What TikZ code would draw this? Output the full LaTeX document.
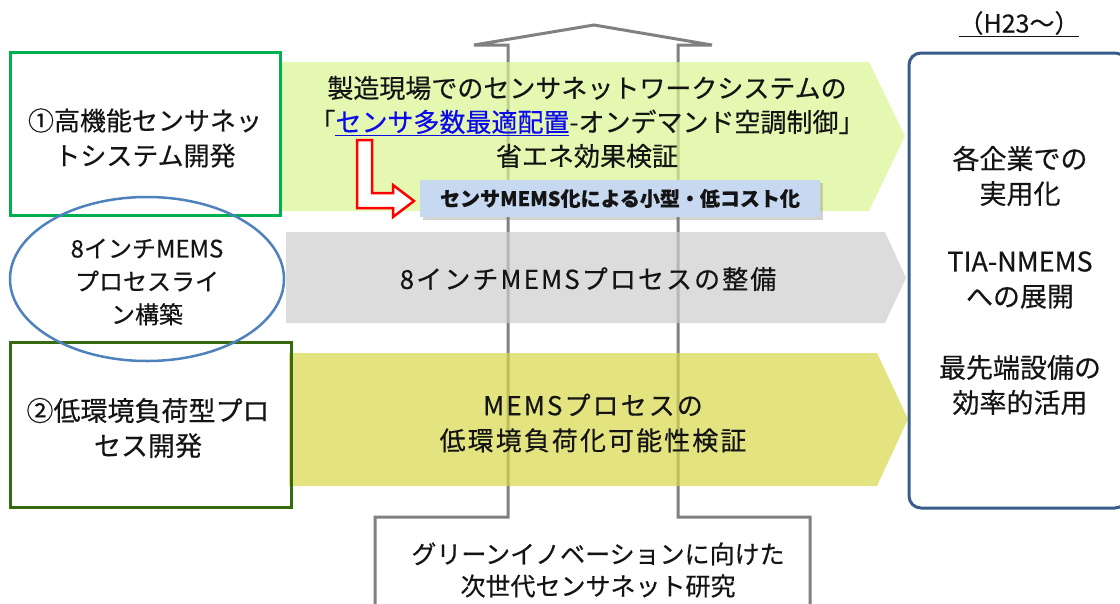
\documentclass[tikz,border=0pt]{standalone}
\usepackage{fontspec}
\setmainfont{Noto Sans CJK JP}[FakeBold=0.4]
\newfontfamily\spacedfont{Noto Sans CJK JP}[LetterSpace=8,FakeBold=0.4]
\usetikzlibrary{shadows}
\definecolor{boxgreen}{RGB}{0,176,80}
\definecolor{darkgreen}{RGB}{55,105,15}
\definecolor{ellblue}{RGB}{79,129,189}
\definecolor{navyedge}{RGB}{56,93,138}
\definecolor{bandgreen}{RGB}{216,245,145}
\definecolor{bandgray}{RGB}{205,205,205}
\definecolor{bandyellow}{RGB}{215,216,74}
\definecolor{labelblue}{RGB}{198,217,240}
\definecolor{linkblue}{RGB}{10,10,235}
\definecolor{outlinegray}{RGB}{128,128,128}
\definecolor{txt}{RGB}{20,20,20}
\tikzset{
  band/.style={fill opacity=0.7, draw=none},
  txtnode/.style={align=center, text=txt, inner sep=0pt},
}
\begin{document}
\begin{tikzpicture}[x=1pt,y=-1pt]
\useasboundingbox (0,0) rectangle (1120,603);
% big outline arrow
\draw[outlinegray, line width=3pt, line join=miter]
  (375,605) -- (375,517) -- (508,517) -- (508,45) -- (474,45) -- (594,25)
  -- (712,45) -- (678,45) -- (678,517) -- (810,517) -- (810,605);
% bands
\fill[band, bandgreen] (282,62) -- (869,62) -- (905,136) -- (869,211) -- (282,211) -- cycle;
\fill[band, bandgray] (286,232) -- (885,232) -- (906,278) -- (885,323) -- (286,323) -- cycle;
\fill[band, bandyellow] (289,353) -- (877,353) -- (908,419) -- (877,486) -- (289,486) -- cycle;
% left boxes
\draw[boxgreen, line width=3pt] (10,52) rectangle (280,215);
\draw[darkgreen, line width=3pt] (10,342) rectangle (291,507);
\draw[ellblue, line width=2.5pt] (147,279) ellipse [x radius=137, y radius=82];
% right box
\draw[navyedge, line width=3pt, rounded corners=12pt] (909,53) rectangle (1127,508);
% label box
\node[fill=labelblue, minimum width=400pt, minimum height=37pt, inner sep=0pt,
      drop shadow={shadow xshift=2.5pt, shadow yshift=-2.5pt, opacity=0.35}]
  (lab) at (620,198.5) {};
\node[txtnode, font=\fontsize{20}{24}\selectfont\bfseries] (labt) at (lab.center) {センサMEMS化による小型・低コスト化};
% red L arrow
\draw[red, fill=white, line width=2.5pt, line join=miter]
  (357,140) -- (372,140) -- (372,193) -- (393,193) -- (393,185) -- (414,201)
  -- (393,217) -- (393,208) -- (357,208) -- cycle;
% texts
\node[txtnode, font=\fontsize{26}{35}\selectfont] (t1) at (145,138) {①高機能センサネッ\\トシステム開発};
\node[txtnode, font=\fontsize{24}{33}\selectfont] (t2) at (147,282) {8インチMEMS\\プロセスライ\\ン構築};
\node[txtnode, font=\fontsize{27}{35}\selectfont] (t3) at (148,428) {②低環境負荷型プロ\\セス開発};
\node[txtnode, font=\fontsize{26}{34}\selectfont] (g) at (587,122)
  {製造現場でのセンサネットワークシステムの\\「\textcolor{linkblue}{\underline{センサ多数最適配置}}-オンデマンド空調制御」\\省エネ効果検証};
\node[txtnode, font=\fontsize{26}{34}\selectfont\spacedfont] (gr) at (588,279) {8インチMEMSプロセスの整備};
\node[txtnode, font=\fontsize{26}{35}\selectfont\spacedfont] (ye) at (593,423) {MEMSプロセスの\\低環境負荷化可能性検証};
\node[txtnode, font=\fontsize{25}{32}\selectfont] (bt) at (598,570) {グリーンイノベーションに向けた\\次世代センサネット研究};
\node[txtnode, font=\fontsize{27}{35}\selectfont] (r1) at (1020,176) {各企業での\\実用化};
\node[txtnode, font=\fontsize{27}{35}\selectfont] (r2) at (1020,280) {TIA-NMEMS\\への展開};
\node[txtnode, font=\fontsize{27}{35}\selectfont] (r3) at (1020,385) {最先端設備の\\効率的活用};
\node[txtnode, font=\fontsize{25}{28}\selectfont] (h) at (1019,24) {\underline{（H23～）}};
\end{tikzpicture}
\end{document}
